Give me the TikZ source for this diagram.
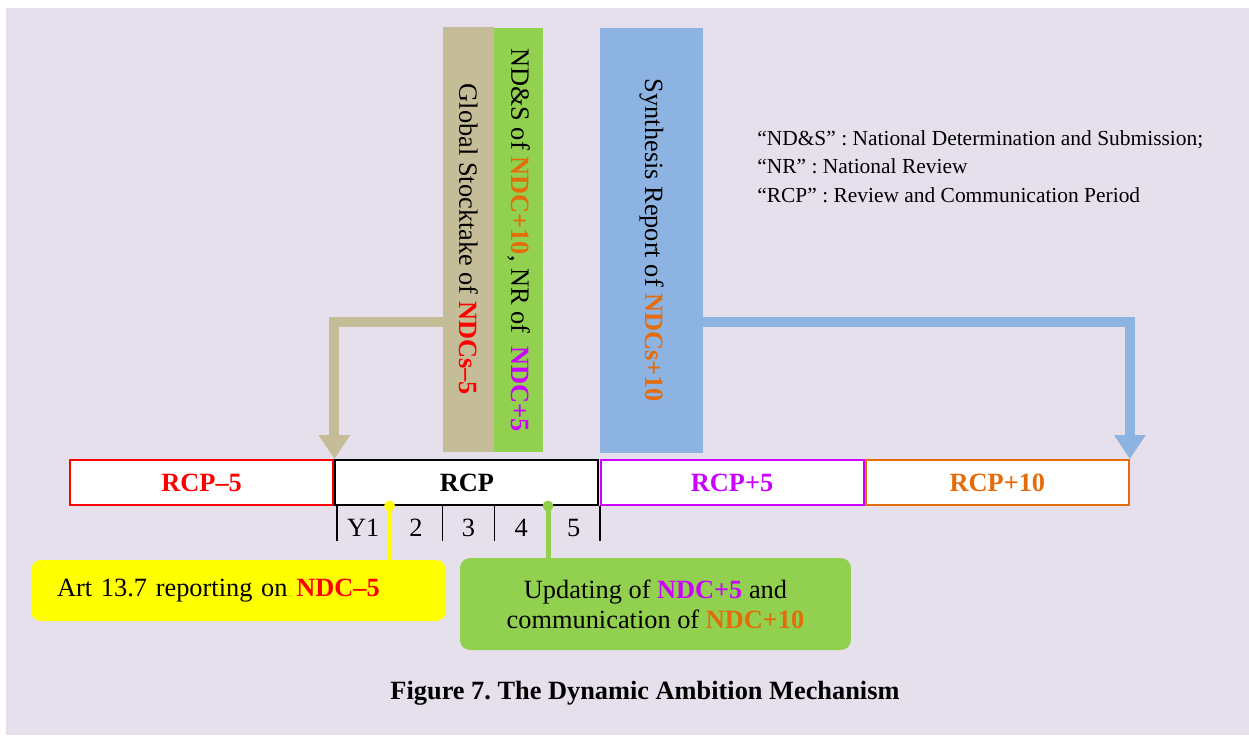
\documentclass[tikz,border=0pt]{standalone}
\usepackage{fontspec}
\setmainfont{Liberation Serif}
\usetikzlibrary{arrows.meta}
\frenchspacing

\definecolor{panelbg}{HTML}{E5E0EC}
\definecolor{gsttan}{HTML}{C4BD97}
\definecolor{ndsgreen}{HTML}{92D050}
\definecolor{synblue}{HTML}{8DB3E2}
\definecolor{ndcred}{HTML}{FF0000}
\definecolor{ndcpurple}{HTML}{CC00FF}
\definecolor{ndcorange}{HTML}{E46C0A}
\definecolor{artyellow}{HTML}{FFFF00}

\begin{document}
\begin{tikzpicture}[x=0.02cm, y=-0.02cm, line join=miter,
	font=\fontsize{15}{17}\selectfont,
	bar/.style={inner sep=0pt, minimum height=8.5cm},
	bartext/.style={rotate=-90, inner sep=0pt},
	period/.style={draw, line width=0.04cm, fill=white, inner sep=0pt,
		minimum width=5.26cm, minimum height=0.9cm, font=\fontsize{15}{17}\selectfont\bfseries},
	feed/.style={line width=0.2cm, -{Triangle[width=0.6cm,length=0.48cm]}},
	callout/.style={rounded corners=0.2cm, inner sep=0pt},
	link/.style={line width=0.1cm}]
	
	% ===============================
	% page and panel
	% ===============================
	\useasboundingbox (0,0) rectangle (1249,735);
	\fill[panelbg] (6,8) rectangle (1249,735);
	
	% ---- vertical bars (stocktake, ND&S, synthesis) ----
	\node[bar, fill=gsttan, minimum width=1.02cm] (gst) at (468.5,239.5) {};
	\node[bar, fill=ndsgreen, minimum width=0.98cm] (nds) at (518.5,240) {};
	\node[bar, fill=synblue, minimum width=2.06cm] (syn) at (651.5,240.5) {};
	
	\node[bartext] (gsttxt) at (gst.center)
	{Global Stocktake of \textbf{\color{ndcred}NDCs--5}};
	\node[bartext] (ndstxt) at (nds.center)
	{ND\&S of \textbf{\color{ndcorange}NDC+10}, NR of \ \textbf{\color{ndcpurple}NDC+5}};
	\node[bartext] (syntxt) at (syn.center)
	{Synthesis Report of \textbf{\color{ndcorange}NDCs+10}};
	
	% ---- timeline of periods ----
	\node[period, draw=ndcred, text=ndcred] (rcpm) at (201.6,482.5) {RCP--5};
	\node[period, draw=black] (rcp) at (466.9,482.5) {RCP};
	\node[period, draw=ndcpurple, text=ndcpurple] (rcpp) at (732.1,482.5) {RCP+5};
	\node[period, draw=ndcorange, text=ndcorange] (rcppp) at (997.4,482.5) {RCP+10};
	
	% feedback arrows from the bars down to the timeline
	\coordinate (gstout) at (443,322);
	\coordinate (synout) at (703,322);
	\draw[feed, gsttan] (gstout) -| (rcp.north west);
	\draw[feed, synblue] (synout) -| (rcppp.north east);
	
	% years inside the RCP
	\foreach \i/\yr in {0/Y1,1/2,2/3,3/4,4/5}{
		\draw[line width=0.6pt] ({337+52.6*\i},506) -- ({337+52.6*\i},541);
		\node (yr\i) at ({363.3+52.6*\i},528) {\yr};
	}
	\draw[line width=0.6pt] (600,506) -- (600,541);
	
	% ---- callouts below the timeline ----
	\node[callout, fill=artyellow, minimum width=8.3cm, minimum height=1.22cm,
	text width=7.26cm, align=left] (art) at (238.5,590.5)
	{Art 13.7 reporting on \textbf{\color{ndcred}NDC--5}};
	\node[callout, fill=ndsgreen, minimum width=7.82cm, minimum height=1.84cm,
	align=center] (upd) at (655.5,604)
	{Updating of \textbf{\color{ndcpurple}NDC+5} and\\
		communication of \textbf{\color{ndcorange}NDC+10}};
	
	\coordinate (artdot) at (389.6,506);
	\coordinate (upddot) at (548,506);
	\draw[link, artyellow] (artdot) -- (artdot |- art.north);
	\fill[artyellow] (artdot) circle (0.11cm);
	\draw[link, ndsgreen] (upddot) -- (upddot |- upd.north);
	\fill[ndsgreen] (upddot) circle (0.11cm);
	
	% ---- legend and caption ----
	\node[anchor=north west, inner sep=0pt, align=left,
	font=\fontsize{12.2}{16.2}\selectfont] (legend) at (757,130)
	{``ND\&S'' : National Determination and Submission;\\
		``NR'' : National Review\\
		``RCP'' : Review and Communication Period};
	\node[font=\fontsize{15}{17}\selectfont\bfseries] (caption) at (645,693)
	{Figure 7. The Dynamic Ambition Mechanism};
	
\end{tikzpicture}
\end{document}
